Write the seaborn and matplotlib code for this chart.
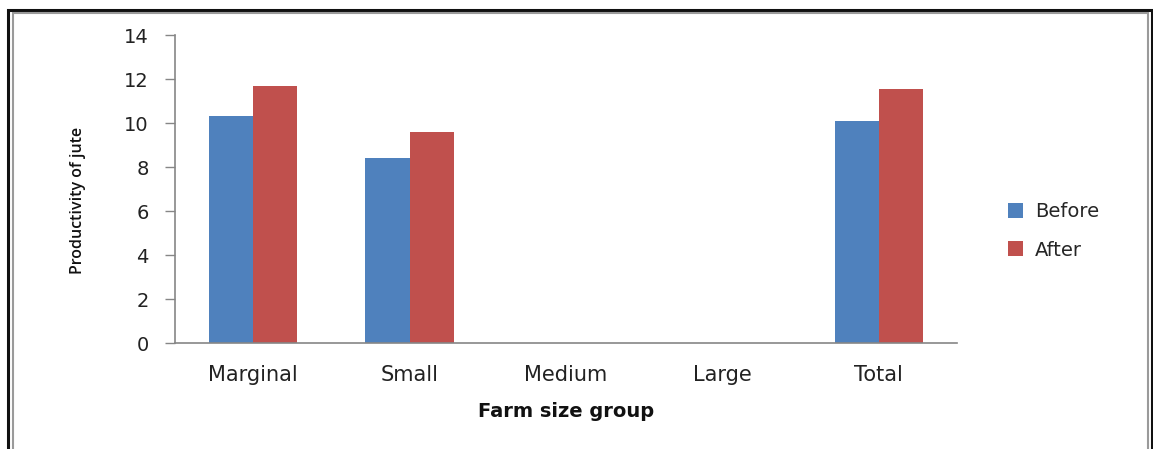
import matplotlib
matplotlib.use("Agg")
import matplotlib.pyplot as plt
import seaborn as sns
import pandas as pd
from matplotlib.patches import Rectangle

categories = ["Marginal", "Small", "Medium", "Large", "Total"]
before = [10.3, 8.4, 0, 0, 10.1]
after = [11.7, 9.6, 0, 0, 11.55]
series = ["Before", "After"]
colors = ["#4F81BD", "#C0504D"]
yticks = [0, 2, 4, 6, 8, 10, 12, 14]

df = pd.DataFrame({
    "group": categories * 2,
    "value": before + after,
    "series": ["Before"] * len(categories) + ["After"] * len(categories),
})

sns.set_theme(style="white")
plt.rcParams['font.family'] = ['DejaVu Sans']

fig = plt.figure(figsize=(11.53, 4.49), dpi=100)
ax = fig.add_axes([0.1518, 0.236, 0.830 - 0.1518, 0.922 - 0.236])

sns.barplot(data=df, x="group", y="value", hue="series", order=categories,
            hue_order=series, palette=colors, width=0.565, saturation=1,
            linewidth=0, ax=ax, legend=True)

ax.set_ylim(0, 14)
ax.set_yticks(yticks)
ax.set_yticklabels([str(t) for t in yticks], fontsize=14, color="#222222")
ax.set_xlim(-0.5, len(categories) - 0.5)
ax.tick_params(axis="y", left=True, length=7, width=1, color="#868686", pad=12)
ax.tick_params(axis="x", bottom=False, pad=10)
for lbl in ax.get_xticklabels():
    lbl.set_fontsize(15)
    lbl.set_color("#222222")

for s in ["top", "right"]:
    ax.spines[s].set_visible(False)
for s in ["left", "bottom"]:
    ax.spines[s].set_color("#868686")
    ax.spines[s].set_linewidth(1.2)

ax.set_xlabel("Farm size group", fontsize=14, fontweight="bold",
              labelpad=12, color="#111111")
ax.set_ylabel("Productivity of jute", fontsize=11.5, fontweight="semibold",
              family=["Open Sans", "DejaVu Sans"], color="#111111")
ax.yaxis.set_label_coords(-0.114, 0.464)

handles, labels = ax.get_legend_handles_labels()
ax.legend(handles, labels, loc="center left", bbox_to_anchor=(1.055, 0.364),
          frameon=False, handlelength=0.8, handleheight=0.8,
          labelspacing=1.0, handletextpad=0.6, borderaxespad=0,
          prop={"size": 14})

# outer frame (double line)
W, H = 1153, 449
fig.patches.append(Rectangle((8 / W, -0.1), (1152 - 8) / W, 1.1 - 10 / H,
                             transform=fig.transFigure, fill=False,
                             edgecolor="#111111", linewidth=2.2))
fig.patches.append(Rectangle((12.5 / W, -0.1), (1148 - 12.5) / W, 1.1 - 13.5 / H,
                             transform=fig.transFigure, fill=False,
                             edgecolor="#9a9a9a", linewidth=1.5))

fig.savefig("out.png", dpi=100, facecolor="white")
